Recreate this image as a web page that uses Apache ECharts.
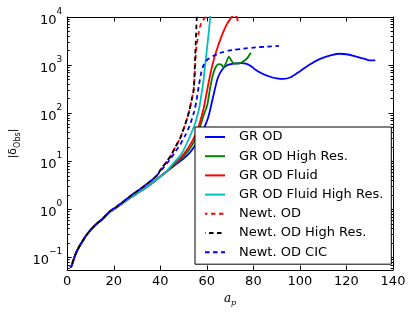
<!DOCTYPE html>
<html><head><meta charset="utf-8">
<script src="https://cdn.jsdelivr.net/npm/echarts@6/dist/echarts.min.js"></script>
<style>html,body{margin:0;padding:0;background:#fff}#c{width:415px;height:312px}</style>
</head><body><div id="c"></div>
<script>
// ---- tick values ----
const xTickValues = [0, 20, 40, 60, 80, 100, 120, 140];
const yMajorTicks = [0.1, 1, 10, 100, 1000, 10000];
const yMinorTicks = [0.06, 0.07, 0.08, 0.09,
  0.2, 0.3, 0.4, 0.5, 0.6, 0.7, 0.8, 0.9,
  2, 3, 4, 5, 6, 7, 8, 9,
  20, 30, 40, 50, 60, 70, 80, 90,
  200, 300, 400, 500, 600, 700, 800, 900,
  2000, 3000, 4000, 5000, 6000, 7000, 8000, 9000];

// ---- shared early growth (a_p, |delta|) ----
const grEarly = [[1.2,0.063],[1.8,0.066],[2.5,0.083],[3.3,0.108],[4.3,0.14],[5.5,0.18],[6.5,0.215],[8,0.28],[10,0.37],[12.6,0.5],[15.2,0.63],[18.2,0.88],[21.2,1.1],[24.3,1.4],[27.3,1.78],[30.3,2.2],[33.4,2.75],[36.4,3.5],[39.4,4.6],[42.5,6.0]];
const newtEarly = [[1.2,0.063],[1.8,0.066],[2.5,0.083],[3.3,0.108],[4.3,0.14],[5.5,0.18],[6.5,0.215],[8,0.28],[10,0.37],[12.6,0.5],[15.2,0.64],[18.2,0.9],[21.2,1.14],[24.3,1.48],[27.3,1.92],[30.3,2.45],[33.4,3.15],[36.4,4.1],[38.4,5.0]];

// ---- late-time tails ----
const grODTail = [[45.5,7.8],[48.5,10],[50.5,12],[52.6,15],[54.6,20],[56.6,29],[58.6,46],[60.7,85],[62.7,220],[64.7,540],[66.7,820],[68.7,990],[70.8,1060],[72.8,1090],[74.8,1100],[76.8,1070],[78.9,960],[80.9,800],[83.9,660],[86.9,580],[90,530],[93,515],[96,560],[99,690],[102,870],[105,1080],[108,1300],[111,1480],[114,1640],[117,1720],[120,1680],[123,1560],[126,1420],[129,1290],[130.5,1250],[132.4,1260]];
const grODHighResTail = [[45.5,8.3],[48.5,10.8],[50.5,13.5],[52.6,18],[54.6,26],[56.6,44],[58.6,90],[60.2,150],[61.4,330],[62.7,650],[64,950],[65.2,1050],[66.2,1030],[67.2,900],[68.2,1100],[69.5,1500],[70.5,1250],[71.8,1080],[73.8,1080],[75.8,1200],[77.4,1400],[78.9,1800]];
const grFluidTail = [[45.5,8.6],[48.5,11.5],[50.5,15],[52.6,21],[54.6,32],[56.6,55],[58.6,125],[59.6,220],[60.7,420],[61.7,720],[62.7,1150],[63.7,1700],[64.7,2400],[65.7,3300],[66.7,4400],[67.7,5700],[68.7,7200],[69.8,8700],[70.8,10200],[71.8,11000],[72.8,10000],[73.3,8200]];
const grFluidHighResTail = [[45.5,9],[48.5,13],[50.5,19],[52.6,32],[54.6,55],[55.6,78],[56.6,120],[57.6,230],[58.6,500],[59.6,1400],[60.7,4200],[61.7,13000]];
const newtODTail = [[40.4,7],[42.5,9.5],[44.5,13],[46.5,20],[48.5,30],[50.5,55],[51.6,80],[52.6,120],[53.6,200],[54.4,330],[55,1000],[55.6,2500],[56.6,5000],[57.6,7500],[59.1,9500],[60.7,11000]];
const newtODHighResTail = [[40.4,7],[42.5,9.5],[44.5,13],[46.5,20],[48.5,30],[50.5,55],[51.6,80],[52.6,120],[53.6,200],[54.4,320],[55,1600],[55.7,10000],[56,20000]];
const newtCICTail = [[40.4,6.5],[42.5,8.6],[44.5,11.5],[46.5,16],[48.5,22],[50.5,33],[52.6,55],[54.6,110],[55.6,190],[56.6,380],[57.6,700],[58.6,1000],[59.6,1200],[60.7,1350],[62.7,1550],[64.7,1700],[66.7,1850],[70.8,2050],[75.8,2200],[80.9,2330],[86,2420],[91,2500]];

const seriesNames = ['GR OD','GR OD High Res.','GR OD Fluid','GR OD Fluid High Res.','Newt. OD','Newt. OD High Res.','Newt. OD CIC'];
const seriesColors = ['#0000ff','#008000','#ff0000','#00bfbf','#ff0000','#000000','#0000ff'];
const seriesData = [
  grEarly.concat(grODTail),
  grEarly.concat(grODHighResTail),
  grEarly.concat(grFluidTail),
  grEarly.concat(grFluidHighResTail),
  newtEarly.concat(newtODTail),
  newtEarly.concat(newtODHighResTail),
  newtEarly.concat(newtCICTail)
];
const dashed = [false,false,false,false,true,true,true];
const dashOffsets = [0,0,0,0,2,4,0];

const chart = echarts.init(document.getElementById('c'), null, {renderer:'canvas'});
const FONT = 'DejaVu Sans';
const axisLineStyle = {color:'#000', width:1};

function expLabel(v){
  const e = Math.round(Math.log10(v));
  return '{b|10}{e|' + (e < 0 ? '\u2212' + (-e) : e) + '}';
}
const yLabelRich = {
  b:{fontFamily:FONT, fontSize:13, color:'#000', lineHeight:20, verticalAlign:'bottom', padding:[4,0,0,0]},
  e:{fontFamily:FONT, fontSize:9, color:'#000', lineHeight:12, verticalAlign:'top'}
};

function yAxisDef(pos, major){
  return {
    type:'log', logBase:10, min:0.055, max:10000, position:pos, gridIndex:0,
    axisLine:{show:major, lineStyle:axisLineStyle},
    axisTick:{show:true, inside:true, length: major ? 4.5 : 2.5, lineStyle:{color:'#000', width:1},
      customValues: major ? yMajorTicks : yMinorTicks},
    minorTick:{show:false},
    splitLine:{show:false},
    axisLabel:{show: major && pos === 'left', customValues: yMajorTicks, formatter: expLabel, rich: yLabelRich, margin:5},
    name: (major && pos === 'left') ? '{p||\u03b4}{s|Obs}{p||}' : '',
    nameLocation:'middle', nameRotate:90, nameGap:36,
    nameTextStyle:{rich:{
      p:{fontFamily:'DejaVu Sans', fontSize:11, color:'#000', lineHeight:16},
      s:{fontFamily:'DejaVu Sans', fontSize:8, color:'#000', lineHeight:16, verticalAlign:'bottom', padding:[3,0,0,0]}
    }}
  };
}

function xAxisDef(pos){
  return {
    type:'value', min:0, max:140, interval:20, position:pos, gridIndex:0,
    axisLine:{show:true, onZero:false, lineStyle:axisLineStyle},
    axisTick:{show:true, inside:true, length:4.5, lineStyle:{color:'#000', width:1}},
    splitLine:{show:false},
    axisLabel:{show: pos === 'bottom', fontFamily:FONT, fontSize:13, color:'#000', margin:5},
    name: pos === 'bottom' ? '{a|a}{p|p}' : '',
    nameLocation:'middle', nameGap:20,
    nameTextStyle:{rich:{
      a:{fontFamily:'DejaVu Serif', fontStyle:'italic', fontSize:12, color:'#000', lineHeight:16},
      p:{fontFamily:'DejaVu Serif', fontStyle:'italic', fontSize:8, color:'#000', lineHeight:16, verticalAlign:'bottom', padding:[4,0,0,0]}
    }}
  };
}

const series = seriesNames.map((name, i) => ({
  name: name,
  type:'line',
  xAxisIndex:0, yAxisIndex:0,
  data: seriesData[i],
  showSymbol:false, symbol:'none',
  smooth:0.25,
  clip:true,
  animation:false,
  color: seriesColors[i],
  itemStyle:{color: seriesColors[i]},
  lineStyle:{color:seriesColors[i], width:1.8, type: dashed[i] ? [4.5,3.5] : 'solid', dashOffset: dashOffsets[i]}
}));

chart.setOption({
  animation:false,
  backgroundColor:'#fff',
  grid:{left:58, right:22, top:17, bottom:42, containLabel:false},
  xAxis:[xAxisDef('bottom'), xAxisDef('top')],
  yAxis:[yAxisDef('left', true), yAxisDef('left', false), yAxisDef('right', true), yAxisDef('right', false)],
  legend:{
    orient:'vertical', left:195, top:127,
    width:192,
    backgroundColor:'#fff', borderColor:'#000', borderWidth:1, borderRadius:0,
    padding:[3,8,5,9],
    itemWidth:20, itemHeight:14, itemGap:5.2,
    itemStyle:{color:'rgba(0,0,0,0)', borderColor:'rgba(0,0,0,0)', borderWidth:0},
    textStyle:{fontFamily:FONT, fontSize:13, color:'#000', padding:[0,0,0,9], lineHeight:14},
    data: seriesNames
  },
  series: series
});
</script>
</body></html>
